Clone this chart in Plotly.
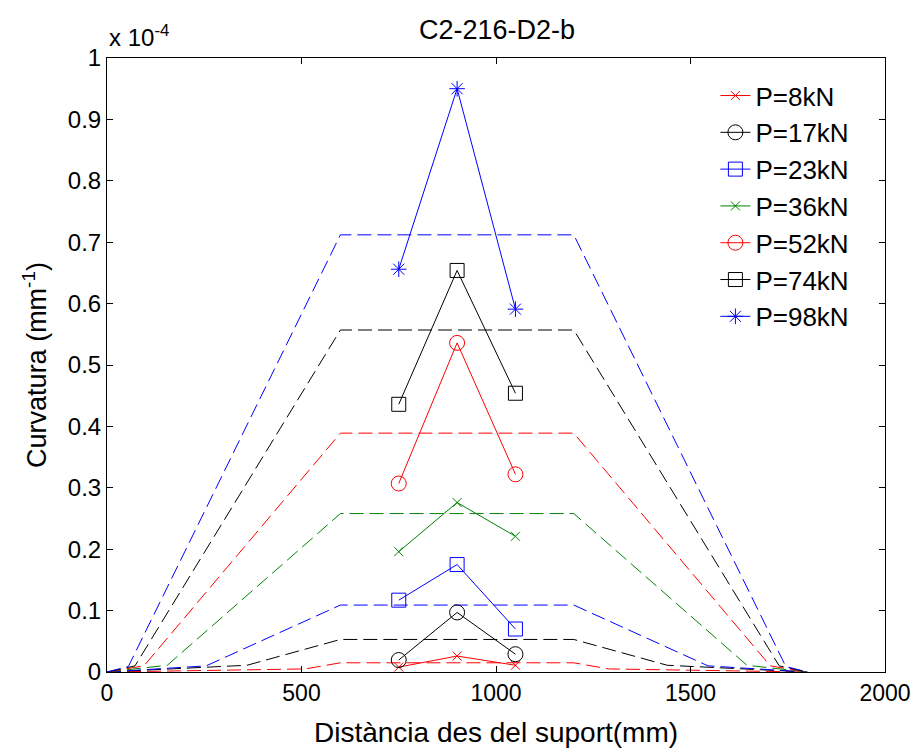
import plotly.graph_objects as go

# Measurement positions (mm) for the measured curvature points
x_meas = [750, 900, 1050]

# Loads and series styles
loads = ["P=8kN", "P=17kN", "P=23kN", "P=36kN", "P=52kN", "P=74kN", "P=98kN"]
colors = ["#FF0000", "#000000", "#0000FF", "#008000", "#FF0000", "#000000", "#0000FF"]
symbols = ["x-thin-open", "circle-open", "square-open", "x-thin-open",
           "circle-open", "square-open", "asterisk-open"]
msizes = [9, 15, 14, 9, 15, 14, 13]

# Measured curvature (units of 1e-4 mm^-1)
meas_8 = [0.008, 0.026, 0.011]
meas_17 = [0.0195, 0.097, 0.029]
meas_23 = [0.117, 0.175, 0.070]
meas_36 = [0.196, 0.276, 0.221]
meas_52 = [0.307, 0.536, 0.322]
meas_74 = [0.436, 0.654, 0.454]
meas_98 = [0.656, 0.950, 0.591]
measured = [meas_8, meas_17, meas_23, meas_36, meas_52, meas_74, meas_98]

# Theoretical curvature profiles (dashed), units of 1e-4 mm^-1
th_x_8 = [0, 510, 600, 1200, 1290, 1800]
th_k_8 = [0, 0.005, 0.015, 0.015, 0.005, 0]
th_x_17 = [0, 360, 600, 1200, 1440, 1800]
th_k_17 = [0, 0.011, 0.053, 0.053, 0.011, 0]
th_x_23 = [0, 255, 600, 1200, 1545, 1800]
th_k_23 = [0, 0.010, 0.109, 0.109, 0.010, 0]
th_x_36 = [0, 155, 600, 1200, 1645, 1800]
th_k_36 = [0, 0.011, 0.258, 0.258, 0.011, 0]
th_x_52 = [0, 95, 600, 1200, 1705, 1800]
th_k_52 = [0, 0.010, 0.389, 0.389, 0.010, 0]
th_x_74 = [0, 72, 600, 1200, 1728, 1800]
th_k_74 = [0, 0.010, 0.557, 0.557, 0.010, 0]
th_x_98 = [0, 55, 600, 1200, 1745, 1800]
th_k_98 = [0, 0.009, 0.712, 0.712, 0.009, 0]
theory_x = [th_x_8, th_x_17, th_x_23, th_x_36, th_x_52, th_x_74, th_x_98]
theory_k = [th_k_8, th_k_17, th_k_23, th_k_36, th_k_52, th_k_74, th_k_98]

x_ticks = [0, 500, 1000, 1500, 2000]
y_ticks = [0, 0.1, 0.2, 0.3, 0.4, 0.5, 0.6, 0.7, 0.8, 0.9, 1]

FONT = "Liberation Sans, Arial, Helvetica, sans-serif"

fig = go.Figure()

for i in range(len(loads)):
    fig.add_trace(go.Scatter(
        x=theory_x[i], y=theory_k[i], mode="lines",
        line=dict(color=colors[i], width=1, dash="14px,6px"),
        showlegend=False, hoverinfo="skip"))

for i in range(len(loads)):
    fig.add_trace(go.Scatter(
        x=x_meas, y=measured[i], mode="lines+markers", name=loads[i],
        legendgroup=loads[i],
        line=dict(color=colors[i], width=1),
        marker=dict(symbol=symbols[i], size=msizes[i], color=colors[i],
                    line=dict(color=colors[i], width=1))))

fig.update_layout(
    width=922, height=748,
    margin=dict(l=107, r=37, t=58, b=76, autoexpand=False),
    paper_bgcolor="white", plot_bgcolor="white",
    font=dict(family=FONT, color="black", size=23),
    title=dict(text="C2-216-D2-b", x=(497 / 922), xanchor="center",
               y=1 - 30 / 748, yanchor="middle", yref="container",
               font=dict(size=27, family=FONT, color="black")),
    showlegend=True,
    legend=dict(x=0.782, xanchor="left", y=0.977, yanchor="top",
                bgcolor="rgba(0,0,0,0)", borderwidth=0,
                font=dict(size=26, family=FONT, color="black"),
                tracegroupgap=0, traceorder="normal"),
)

fig.update_xaxes(
    range=[0, 2000], tickvals=x_ticks, ticks="inside", ticklen=6,
    showline=True, linecolor="black", linewidth=1, mirror="ticks",
    tickcolor="black", showgrid=False, zeroline=False,
    tickfont=dict(size=23, family=FONT, color="black"),
    title=dict(text="Distància des del suport(mm)", standoff=20,
               font=dict(size=28, family=FONT, color="black")))

fig.update_yaxes(
    range=[0, 1], tickvals=y_ticks, ticks="inside", ticklen=6,
    showline=True, linecolor="black", linewidth=1, mirror="ticks",
    tickcolor="black", showgrid=False, zeroline=False,
    tickfont=dict(size=24, family=FONT, color="black"),
    title=dict(text="Curvatura (mm<sup>-1</sup>)", standoff=13,
               font=dict(size=27, family=FONT, color="black")))

fig.add_annotation(
    text="x 10<sup>-4</sup>", xref="paper", yref="paper", x=0.0, y=1.0,
    xanchor="left", yanchor="bottom", yshift=5, showarrow=False,
    font=dict(size=24, family=FONT, color="black"))

fig.write_html("out.html")
